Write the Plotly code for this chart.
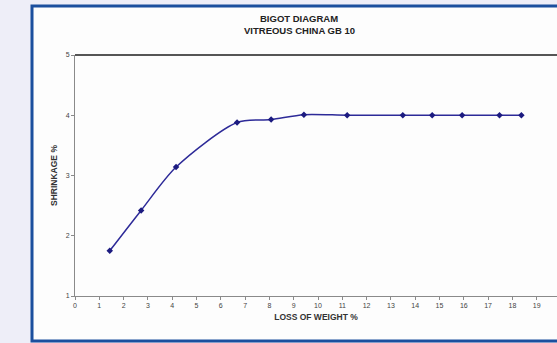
import plotly.graph_objects as go

# Data
loss_of_weight = [1.43, 2.72, 4.16, 6.67, 8.07, 9.42, 11.2, 13.49, 14.7, 15.93, 17.47, 18.37]
shrinkage = [1.75, 2.42, 3.14, 3.88, 3.93, 4.01, 4.0, 4.0, 4.0, 4.0, 4.0, 4.0]
x_ticks = list(range(0, 21))
y_ticks = [1, 2, 3, 4, 5]

title_lines = ["BIGOT DIAGRAM", "VITREOUS CHINA GB 10"]

W, H = 557, 343
ML, MR, MT, MB = 75, 0, 55, 47
PW = W - ML - MR
PH = H - MT - MB
px_per_x = 24.3


def px2paper_x(px):
    return (px - ML) / PW


def px2paper_y(py):
    return (H - MB - py) / PH


fig = go.Figure()
fig.add_trace(go.Scatter(
    x=loss_of_weight, y=shrinkage,
    mode="lines+markers",
    line=dict(color="#2d2a98", width=1.5, shape="spline", smoothing=0.8),
    marker=dict(symbol="diamond", size=5, color="#1c1b80"),
    showlegend=False, cliponaxis=False,
))

font = "Liberation Sans, Arial, sans-serif"

fig.update_layout(
    width=W, height=H,
    margin=dict(l=ML, r=MR, t=MT, b=MB, pad=0),
    paper_bgcolor="#eeeef8",
    plot_bgcolor="#fdfdfd",
    font=dict(family=font, color="#333333"),
    xaxis=dict(
        range=[0, PW / px_per_x], tickvals=x_ticks, ticktext=[str(t) for t in x_ticks],
        showgrid=False, zeroline=False, showline=True, linecolor="#8a8a8a", linewidth=1,
        ticks="outside", ticklen=3, tickcolor="#8a8a8a", tickfont=dict(size=7, color="#444444"),
        title=dict(text="<b>LOSS OF WEIGHT %</b>", font=dict(size=8.5, color="#333333"), standoff=5),
    ),
    yaxis=dict(
        range=[1, 5], tickvals=y_ticks,
        showgrid=False, zeroline=False, showline=True, linecolor="#8a8a8a", linewidth=1,
        ticks="outside", ticklen=3, tickcolor="#8a8a8a", tickfont=dict(size=7, color="#444444"),
        title=dict(text="<b>SHRINKAGE %</b>", font=dict(size=8.5, color="#333333"), standoff=6),
    ),
    shapes=[
        # outer chart box (white with blue border)
        dict(type="rect", xref="paper", yref="paper", layer="below",
             x0=px2paper_x(32), x1=px2paper_x(600), y0=px2paper_y(341), y1=px2paper_y(6),
             line=dict(color="#1b4f9e", width=3), fillcolor="#fdfdfd"),
        # top border of plot area
        dict(type="line", xref="paper", yref="paper", layer="above",
             x0=0, x1=1, y0=1, y1=1, line=dict(color="#555555", width=2)),
    ],
    annotations=[
        dict(text="<b>" + title_lines[0] + "</b>", xref="paper", yref="paper",
             x=px2paper_x(299), y=px2paper_y(18), xanchor="center", yanchor="middle",
             showarrow=False, font=dict(size=9.5, color="#222222", family=font)),
        dict(text="<b>" + title_lines[1] + "</b>", xref="paper", yref="paper",
             x=px2paper_x(299), y=px2paper_y(31), xanchor="center", yanchor="middle",
             showarrow=False, font=dict(size=9.5, color="#222222", family=font)),
    ],
)

fig.write_html("out.html")
